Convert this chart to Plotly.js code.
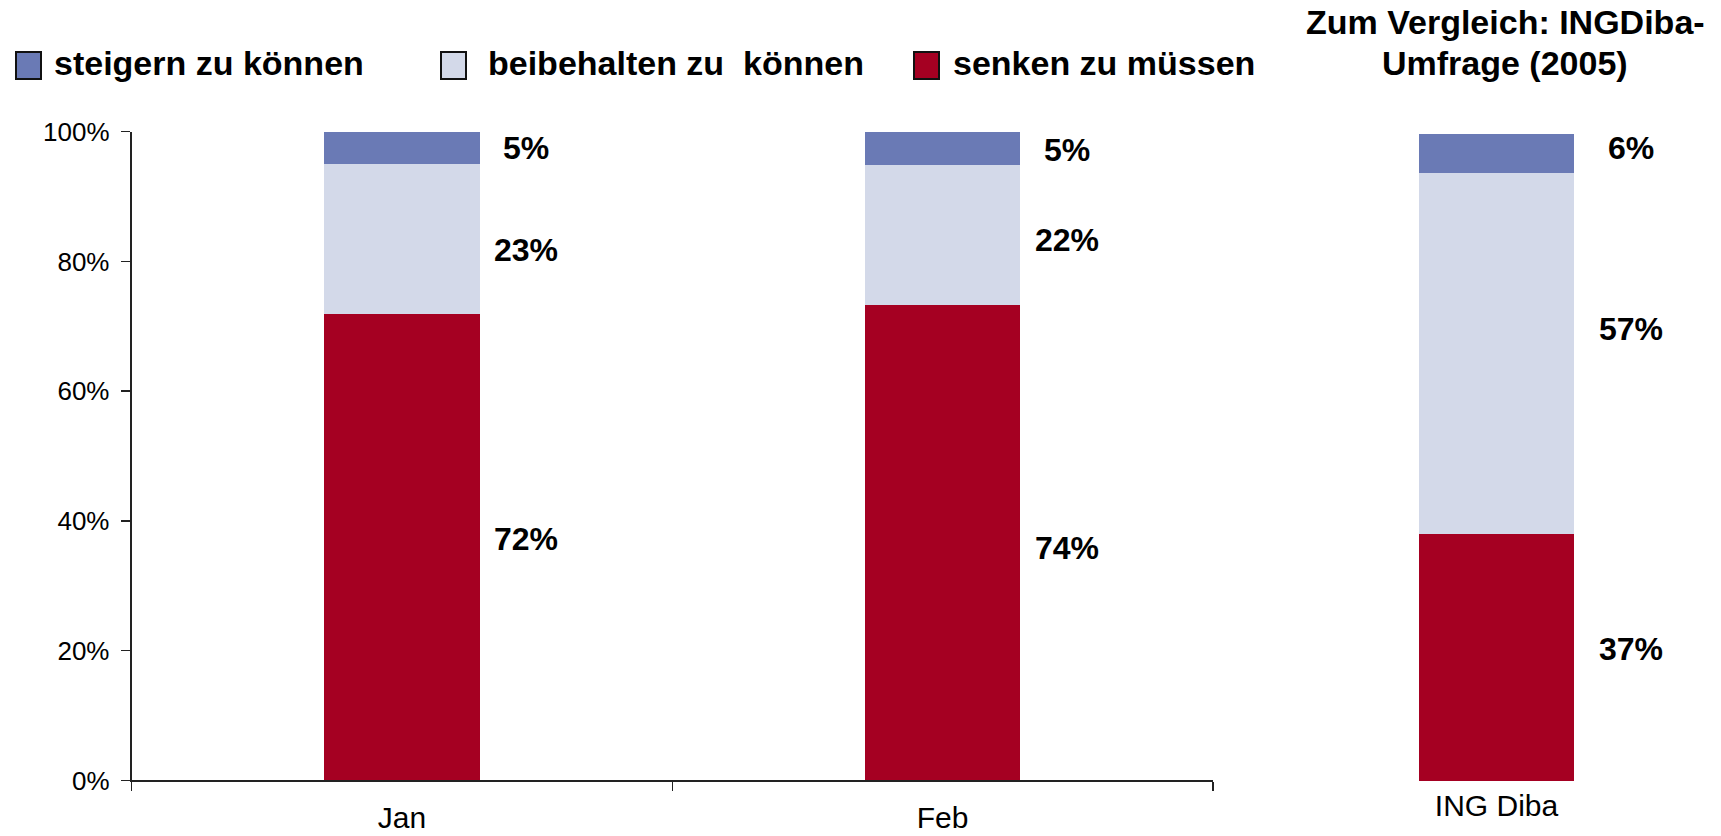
<!DOCTYPE html>
<html>
<head>
<meta charset="utf-8">
<script src="https://cdn.plot.ly/plotly-3.0.1.min.js"></script>
<style>html,body{margin:0;padding:0;background:#fff;}#chart{width:1721px;height:836px;}</style>
</head>
<body>
<div id="chart"></div>
<script>
// ---- data ----
const categories = ['Jan', 'Feb'];
const compCategory = ['ING Diba'];
const seriesNames = ['steigern zu können', 'beibehalten zu\u00a0 können', 'senken zu müssen'];

const steigern    = [5.0, 5.1];
const beibehalten = [23.1, 21.6];
const senken      = [71.9, 73.3];
const steigernLabels    = ['5%', '5%'];
const beibehaltenLabels = ['23%', '22%'];
const senkenLabels      = ['72%', '74%'];

const ingSteigern    = [6.0];
const ingBeibehalten = [55.8];
const ingSenken      = [38.2];
const ingSteigernLabels    = ['6%'];
const ingBeibehaltenLabels = ['57%'];
const ingSenkenLabels      = ['37%'];

const yTicks = [0, 20, 40, 60, 80, 100];
const yTickLabels = ['0%', '20%', '40%', '60%', '80%', '100%'];
const compTitleLines = ['Zum Vergleich: INGDiba-', 'Umfrage (2005)'];

// ---- styles ----
const W = 1721, H = 836;
const FONT = 'Liberation Sans, Arial, Helvetica, sans-serif';
const colBlue = '#6A7AB5', colLight = '#D3D9E9', colRed = '#A50022';
const px = v => v / W;
const py = v => 1 - v / H;

function bar(x, y, color, name, xa, ya, width) {
  return {type: 'bar', x: x, y: y, name: name, xaxis: xa, yaxis: ya, width: width,
    marker: {color: color, line: {width: 0}}, showlegend: false, hoverinfo: 'x+y'};
}

const wLeft = 0.287, wRight = 0.776;
const data = [
  bar(categories, senken, colRed, seriesNames[2], 'x', 'y', wLeft),
  bar(categories, beibehalten, colLight, seriesNames[1], 'x', 'y', wLeft),
  bar(categories, steigern, colBlue, seriesNames[0], 'x', 'y', wLeft),
  bar(compCategory, ingSenken, colRed, seriesNames[2], 'x2', 'y2', wRight),
  bar(compCategory, ingBeibehalten, colLight, seriesNames[1], 'x2', 'y2', wRight),
  bar(compCategory, ingSteigern, colBlue, seriesNames[0], 'x2', 'y2', wRight)
];

// value labels near segment midpoints; pixel nudges (style) per [category][segment bottom->top]
const leftNudge  = [[8, -11, 0], [-5, -5, -2]];
const rightNudge = [[8, 24, 5]];
const annotations = [];
function addLabels(cats, stacks, labels, xa, ya, shift, nudge) {
  cats.forEach((c, i) => {
    let base = 0;
    stacks.forEach((s, k) => {
      const mid = base + s[i] / 2;
      base += s[i];
      annotations.push({x: c, y: mid, xref: xa, yref: ya, text: labels[k][i], showarrow: false,
        xanchor: 'center', yanchor: 'middle', xshift: shift, yshift: nudge[i][k],
        font: {family: FONT, size: 32, color: '#000', weight: 'bold'}});
    });
  });
}
addLabels(categories, [senken, beibehalten, steigern], [senkenLabels, beibehaltenLabels, steigernLabels], 'x', 'y', 124, leftNudge);
addLabels(compCategory, [ingSenken, ingBeibehalten, ingSteigern], [ingSenkenLabels, ingBeibehaltenLabels, ingSteigernLabels], 'x2', 'y2', 134, rightNudge);

// comparison title (two centered lines)
const titleY = [22, 63];
compTitleLines.forEach((t, i) => {
  annotations.push({x: px(1505), y: py(titleY[i]), xref: 'paper', yref: 'paper', text: t, showarrow: false,
    xanchor: 'center', yanchor: 'middle',
    font: {family: FONT, size: 34, color: '#000', weight: 'bold'}});
});

// custom legend
const legendItems = [
  {name: seriesNames[0], color: colBlue, sx: 16, tx: 52},
  {name: seriesNames[1], color: colLight, sx: 441, tx: 486},
  {name: seriesNames[2], color: colRed, sx: 914, tx: 951}
];
const shapes = [];
legendItems.forEach(it => {
  shapes.push({type: 'rect', xref: 'paper', yref: 'paper', x0: px(it.sx), x1: px(it.sx + 25), y0: py(52), y1: py(79),
    fillcolor: it.color, line: {color: '#111', width: 2}});
  annotations.push({x: px(it.tx), y: py(63), xref: 'paper', yref: 'paper', text: it.name, showarrow: false,
    xanchor: 'left', yanchor: 'middle', font: {family: FONT, size: 34, color: '#000', weight: 'bold'}});
});

const layout = {
  width: W, height: H,
  margin: {l: 0, r: 0, t: 0, b: 0},
  paper_bgcolor: '#fff', plot_bgcolor: '#fff',
  barmode: 'stack',
  showlegend: false,
  xaxis: {domain: [px(131.7), px(1212.8)], type: 'category', range: [-0.5, 1.5], anchor: 'y',
    showline: true, linecolor: '#222', linewidth: 2, ticks: 'outside', tickson: 'boundaries',
    ticklen: 9, tickwidth: 1.5, tickcolor: '#222', showgrid: false, zeroline: false,
    tickfont: {family: FONT, size: 30, color: '#000'}, ticklabelstandoff: 10},
  yaxis: {domain: [1 - 780.4 / H, 1 - 131.7 / H], range: [0, 100], anchor: 'x',
    tickmode: 'array', tickvals: yTicks, ticktext: yTickLabels, showline: true, linecolor: '#222', linewidth: 2,
    ticks: 'outside', ticklen: 9, tickwidth: 1.5, tickcolor: '#222', showgrid: false, zeroline: false,
    tickfont: {family: FONT, size: 26, color: '#000'}, ticklabelstandoff: 6},
  xaxis2: {domain: [px(1396.5), px(1596.5)], type: 'category', range: [-0.5, 0.5], anchor: 'y2',
    showline: false, ticks: '', showgrid: false, zeroline: false,
    tickfont: {family: FONT, size: 30, color: '#000'}, ticklabelstandoff: 4},
  yaxis2: {domain: [1 - 781 / H, 1 - 134 / H], range: [0, 100], anchor: 'x2', visible: false},
  annotations: annotations,
  shapes: shapes
};

Plotly.newPlot('chart', data, layout, {displayModeBar: false, staticPlot: true});
</script>
</body>
</html>
